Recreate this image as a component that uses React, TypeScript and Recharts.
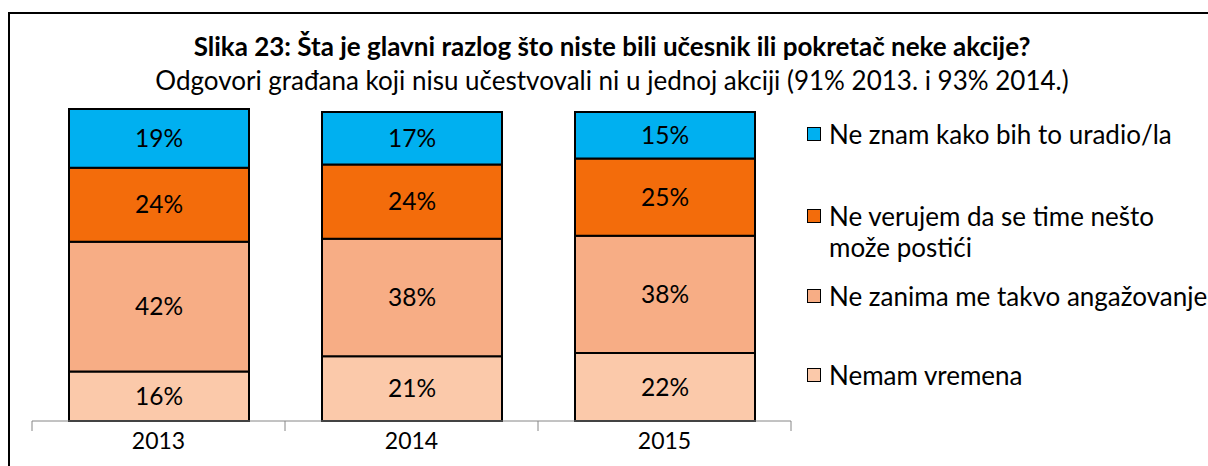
import React from 'react';
import { BarChart, Bar, XAxis, YAxis, LabelList } from 'recharts';

const categories = ['2013', '2014', '2015'];
const nemamVremena = [16, 21, 22];
const neZanima = [42, 38, 38];
const neVerujem = [24, 24, 25];
const neZnam = [19, 17, 15];

const seriesKeys = ['nemamVremena', 'neZanima', 'neVerujem', 'neZnam'];
const seriesNames = [
  'Nemam vremena',
  'Ne zanima me takvo angažovanje',
  'Ne verujem da se time nešto\nmože postići',
  'Ne znam kako bih to uradio/la',
];
const seriesColors = ['#FBC9AA', '#F7AD85', '#F36C0B', '#00B0F0'];

const title = 'Slika 23: Šta je glavni razlog što niste bili učesnik ili pokretač neke akcije?';
const subtitle = 'Odgovori građana koji nisu učestvovali ni u jednoj akciji (91% 2013. i 93% 2014.)';

const data = categories.map((c, i) => ({
  year: c,
  nemamVremena: nemamVremena[i],
  neZanima: neZanima[i],
  neVerujem: neVerujem[i],
  neZnam: neZnam[i],
}));

const FONT = 'Lato, "Open Sans", sans-serif';
const W = 1208;
const H = 466;
const MARGIN = { top: 109, right: 417, bottom: 15, left: 32 };
const PLOT_W = W - MARGIN.left - MARGIN.right;
const TICK_SIZE = 10;
const TICK_MARGIN = 2;

const Tick = (props: any) => {
  const { x, y, payload, index } = props;
  const half = PLOT_W / categories.length / 2;
  const axisY = y - TICK_SIZE - TICK_MARGIN;
  return (
    <g>
      <line x1={x - half} x2={x - half} y1={axisY} y2={axisY + TICK_SIZE} stroke="#868686" strokeWidth={1} />
      {index === categories.length - 1 && (
        <line x1={x + half} x2={x + half} y1={axisY} y2={axisY + TICK_SIZE} stroke="#868686" strokeWidth={1} />
      )}
      <text x={x} y={y} dy="0.71em" textAnchor="middle" fill="#000" fontSize={23} fontFamily={FONT}>
        {payload.value}
      </text>
    </g>
  );
};

const legendTops = [118.5, 200.5, 280.5, 359.5];
const legendOrder = [3, 2, 1, 0];

export default function App() {
  return (
    <div style={{ position: 'fixed', left: 0, top: 0, width: W, height: H, overflow: 'hidden', fontFamily: FONT, background: '#fff' }}>
      <style>{'html,body{margin:0;padding:0;overflow:hidden;}'}</style>
      <div style={{ position: 'absolute', left: 8, top: 12, width: 1400, height: 2, background: '#000' }} />
      <div style={{ position: 'absolute', left: 8, top: 12, width: 2, height: 600, background: '#000' }} />
      <div style={{ position: 'absolute', left: 0, top: 31, width: 1224, textAlign: 'center', fontSize: 26, fontWeight: 700, lineHeight: '30px', color: '#000', whiteSpace: 'nowrap' }}>
        {title}
      </div>
      <div style={{ position: 'absolute', left: 0, top: 65, width: 1224, textAlign: 'center', fontSize: 26, lineHeight: '30px', color: '#000', whiteSpace: 'nowrap' }}>
        {subtitle}
      </div>
      <div style={{ position: 'absolute', left: 0, top: 0 }}>
        <BarChart width={W} height={H} data={data} margin={MARGIN}>
          <XAxis
            dataKey="year"
            height={30}
            axisLine={{ stroke: '#868686', strokeWidth: 1 }}
            tickLine={false}
            tickSize={TICK_SIZE}
            tickMargin={TICK_MARGIN}
            tick={<Tick />}
            interval={0}
          />
          <YAxis hide domain={[0, 'dataMax']} type="number" />
          {seriesKeys.map((k, i) => (
            <Bar
              key={k}
              dataKey={k}
              name={seriesNames[i]}
              stackId="a"
              fill={seriesColors[i]}
              stroke="#000"
              strokeWidth={2}
              barSize={180}
              isAnimationActive={false}
            >
              <LabelList
                dataKey={k}
                position="center"
                formatter={(v: any) => `${v}%`}
                fill="#000"
                fontSize={24.5}
                fontFamily={FONT}
              />
            </Bar>
          ))}
        </BarChart>
      </div>
      {legendOrder.map((si, j) => (
        <div
          key={si}
          style={{
            position: 'absolute',
            left: 807,
            top: legendTops[j],
            display: 'flex',
            alignItems: 'flex-start',
            whiteSpace: 'pre',
            fontSize: 26,
            lineHeight: '31px',
            color: '#000',
          }}
        >
          <span
            style={{
              display: 'inline-block',
              width: 12,
              height: 12,
              marginTop: 8,
              marginRight: 8,
              background: seriesColors[si],
              border: '1.5px solid #000',
              flex: 'none',
            }}
          />
          <span>{seriesNames[si]}</span>
        </div>
      ))}
    </div>
  );
}
